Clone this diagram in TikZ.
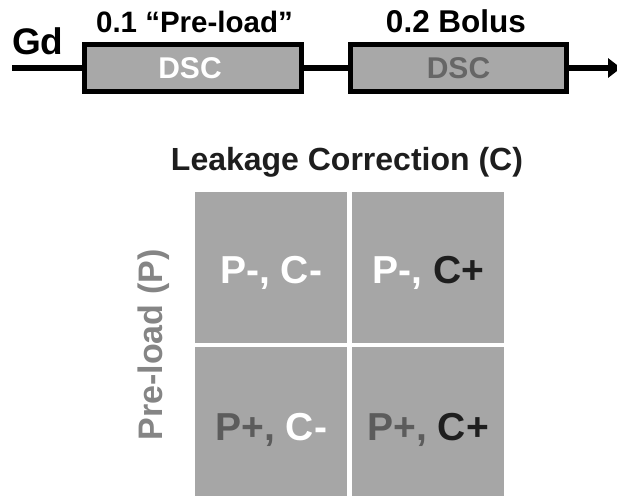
\documentclass[tikz,border=0pt]{standalone}
\usepackage{fontspec}
\setmainfont{Liberation Sans}
\usetikzlibrary{arrows.meta}
\definecolor{boxgray}{HTML}{A8A8A8}
\definecolor{cellgray}{HTML}{A6A6A6}
\definecolor{dark}{HTML}{1E1E1E}
\definecolor{midgray}{HTML}{5C5C5C}
\definecolor{labgray}{HTML}{858585}
\definecolor{dscgray}{HTML}{666666}
\newcommand{\fs}[1]{\fontsize{#1}{#1}\selectfont\bfseries}
\tikzset{
  dscbox/.style={draw=black, line width=5pt, fill=boxgray, inner sep=0pt, minimum height=47pt},
  cell/.style={fill=cellgray, inner sep=0pt, minimum width=152pt, minimum height=151pt, anchor=north west},
  celltext/.style={anchor=base, inner sep=0pt, font=\fs{39}},
  wire/.style={line width=6pt}
}
\begin{document}
\begin{tikzpicture}[x=1pt,y=-1pt]
\useasboundingbox (0,0) rectangle (617,495);
% timeline
\node[dscbox, minimum width=217pt] (b1) at (193,68) {};
\node[dscbox, minimum width=216pt] (b2) at (458.5,68) {};
\node[anchor=base, inner sep=0pt, text=white, font=\fs{30}] (t1) at (190,78) {DSC};
\node[anchor=base, inner sep=0pt, text=dscgray, font=\fs{30}] (t2) at (458.5,78) {DSC};
\coordinate (s) at (12,68);
\coordinate (e) at (621,68);
\draw[wire] (s) -- (b1.west);
\draw[wire] (b1.east) -- (b2.west);
\draw[wire, -{Triangle[length=13pt,width=19pt]}] (b2.east) -- (e);
\node[anchor=base west, inner sep=0pt, font=\fs{37}] (gd) at (12,55) {Gd};
\node[anchor=base, inner sep=0pt, font=\fs{29.5}] (l1) at (194.5,33) {0.1 “Pre-load”};
\node[anchor=base, inner sep=0pt, font=\fs{31.5}] (l2) at (456,33) {0.2 Bolus};
% grid
\node[anchor=base, inner sep=0pt, text=dark, font=\fs{32}] (lc) at (347,170) {Leakage Correction (C)};
\node[cell] (c11) at (195,192) {};
\node[cell] (c12) at (352,192) {};
\node[cell] (c21) at (195,347) {};
\node[cell] (c22) at (352,347) {};
\node[celltext, text=white] (x11) at (c11.center |- 0,283) {P-, C-};
\node[celltext] (x12) at (c12.center |- 0,283) {\textcolor{white}{P-,} \textcolor{dark}{C+}};
\node[celltext] (x21) at (c21.center |- 0,440) {\textcolor{midgray}{P+,} \textcolor{white}{C-}};
\node[celltext] (x22) at (c22.center |- 0,440) {\textcolor{midgray}{P+,} \textcolor{dark}{C+}};
\node[rotate=90, anchor=base, inner sep=0pt, text=labgray, font=\fs{34}] (pl) at (162,345) {Pre-load (P)};
\end{tikzpicture}
\end{document}
